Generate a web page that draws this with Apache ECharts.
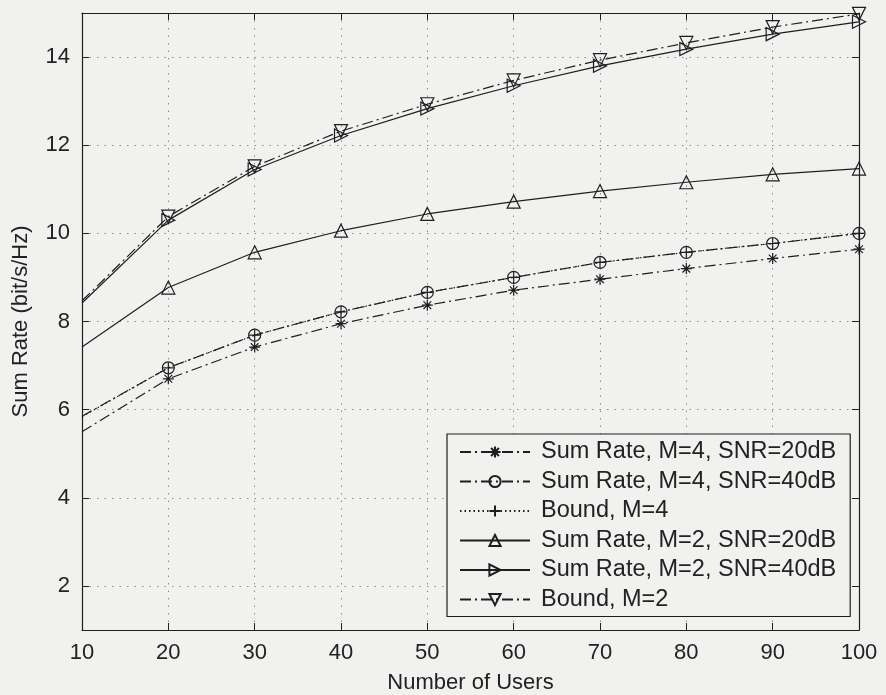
<!DOCTYPE html>
<html>
<head>
<meta charset="utf-8">
<script src="https://cdn.jsdelivr.net/npm/echarts@6/dist/echarts.min.js"></script>
<style>
  html, body { margin: 0; padding: 0; background: #f1f1f0; }
  #chart { width: 886px; height: 695px; }
</style>
</head>
<body>
<div id="chart"></div>
<script>
// Number of users (x axis)
const users = [10, 20, 30, 40, 50, 60, 70, 80, 90, 100];

// Sum rate in bit/s/Hz for each configuration
const rateM4Snr20 = [5.50, 6.70, 7.42, 7.95, 8.37, 8.71, 8.96, 9.20, 9.43, 9.64];
const rateM4Snr40 = [5.85, 6.95, 7.69, 8.22, 8.66, 9.00, 9.34, 9.57, 9.77, 10.00];
const boundM4     = [5.84, 6.95, 7.69, 8.22, 8.66, 9.00, 9.34, 9.57, 9.77, 10.00];
const rateM2Snr20 = [7.42, 8.77, 9.57, 10.06, 10.44, 10.72, 10.96, 11.16, 11.34, 11.47];
const rateM2Snr40 = [8.42, 10.30, 11.45, 12.22, 12.83, 13.35, 13.80, 14.18, 14.52, 14.80];
const boundM2     = [8.47, 10.38, 11.52, 12.32, 12.93, 13.47, 13.93, 14.32, 14.68, 14.98];

const seriesNames = [
  'Sum Rate, M=4, SNR=20dB',
  'Sum Rate, M=4, SNR=40dB',
  'Bound, M=4',
  'Sum Rate, M=2, SNR=20dB',
  'Sum Rate, M=2, SNR=40dB',
  'Bound, M=2'
];

const INK = '#1e1e1e';
const BG = '#f1f1f0';
const FONT = 'Liberation Sans, Arial, sans-serif';
const dashDot = [11, 4, 2, 4];
const dotted = [1.5, 3];

const SYM_STAR = 'path://M5 0 L5 10 M0 5 L10 5 M1.5 1.5 L8.5 8.5 M8.5 1.5 L1.5 8.5';
const SYM_PLUS = 'path://M5 0 L5 10 M0 5 L10 5';
const SYM_RIGHT = 'path://M0 0 L10 5 L0 10 Z';
const SYM_DOWN = 'path://M0 0 L10 0 L5 10 Z';
const SYM_UP = 'path://M5 0 L10 10 L0 10 Z';

// first point (x = 10) is drawn without a marker
function toData(values) {
  return values.map((v, i) => i === 0 ? { value: [users[i], v], symbol: 'none' } : [users[i], v]);
}

function makeSeries(name, values, symbol, size, lineType) {
  return {
    name: name,
    type: 'line',
    data: toData(values),
    symbol: symbol,
    symbolSize: size,
    showAllSymbol: true,
    animation: false,
    lineStyle: { color: INK, width: 1.2, type: lineType },
    itemStyle: { color: 'rgba(0,0,0,0)', borderColor: INK, borderWidth: 1.2 },
    emphasis: { disabled: true }
  };
}

const series = [
  makeSeries(seriesNames[0], rateM4Snr20, SYM_STAR, 11, dashDot),
  makeSeries(seriesNames[1], rateM4Snr40, 'circle', 12, dashDot),
  makeSeries(seriesNames[2], boundM4, SYM_PLUS, 11, dotted),
  makeSeries(seriesNames[3], rateM2Snr20, SYM_UP, 13, 'solid'),
  makeSeries(seriesNames[4], rateM2Snr40, SYM_RIGHT, 13, 'solid'),
  makeSeries(seriesNames[5], boundM2, SYM_DOWN, 13, dashDot)
];

const gridLine = { show: true, lineStyle: { color: '#8a8a8a', width: 1, type: [1.5, 6] } };
const axisLine = { show: true, onZero: false, lineStyle: { color: INK, width: 1.2 } };
const tickIn = { show: true, inside: true, length: 7, lineStyle: { color: INK, width: 1 } };
const labelText = { color: '#222', fontFamily: FONT, fontSize: 22 };

const chart = echarts.init(document.getElementById('chart'), null, { renderer: 'canvas' });
chart.setOption({
  backgroundColor: BG,
  animation: false,
  grid: { left: 82, right: 27, top: 13, bottom: 65, containLabel: false, outerBoundsMode: 'none' },
  legend: {
    orient: 'vertical',
    left: 447,
    top: 434,
    padding: [6, 14, 5, 12],
    itemGap: 5.5,
    itemWidth: 70,
    itemHeight: 14,
    backgroundColor: BG,
    borderColor: INK,
    borderWidth: 1.2,
    borderRadius: 0,
    textStyle: { color: '#222', fontFamily: FONT, fontSize: 23.5, padding: [0, 0, 0, 6] },
    data: seriesNames
  },
  xAxis: [
    {
      type: 'value', min: 10, max: 100, interval: 10,
      position: 'bottom',
      name: 'Number of Users', nameLocation: 'middle', nameGap: 42,
      nameTextStyle: labelText,
      axisLine: axisLine, axisTick: tickIn,
      axisLabel: Object.assign({ margin: 12 }, labelText),
      splitLine: gridLine
    },
    {
      type: 'value', min: 10, max: 100, interval: 10,
      position: 'top',
      axisLine: axisLine, axisTick: tickIn,
      axisLabel: { show: false }, splitLine: { show: false }
    }
  ],
  yAxis: [
    {
      type: 'value', min: 1, max: 15, splitNumber: 7,
      position: 'left',
      name: 'Sum Rate (bit/s/Hz)', nameLocation: 'middle', nameGap: 50,
      nameTextStyle: labelText,
      axisLine: axisLine, axisTick: tickIn,
      axisLabel: Object.assign({ margin: 12, showMinLabel: false, showMaxLabel: false }, labelText),
      splitLine: gridLine
    },
    {
      type: 'value', min: 1, max: 15, splitNumber: 7,
      position: 'right',
      axisLine: axisLine, axisTick: tickIn,
      axisLabel: { show: false }, splitLine: { show: false }
    }
  ],
  series: series
});
</script>
</body>
</html>
